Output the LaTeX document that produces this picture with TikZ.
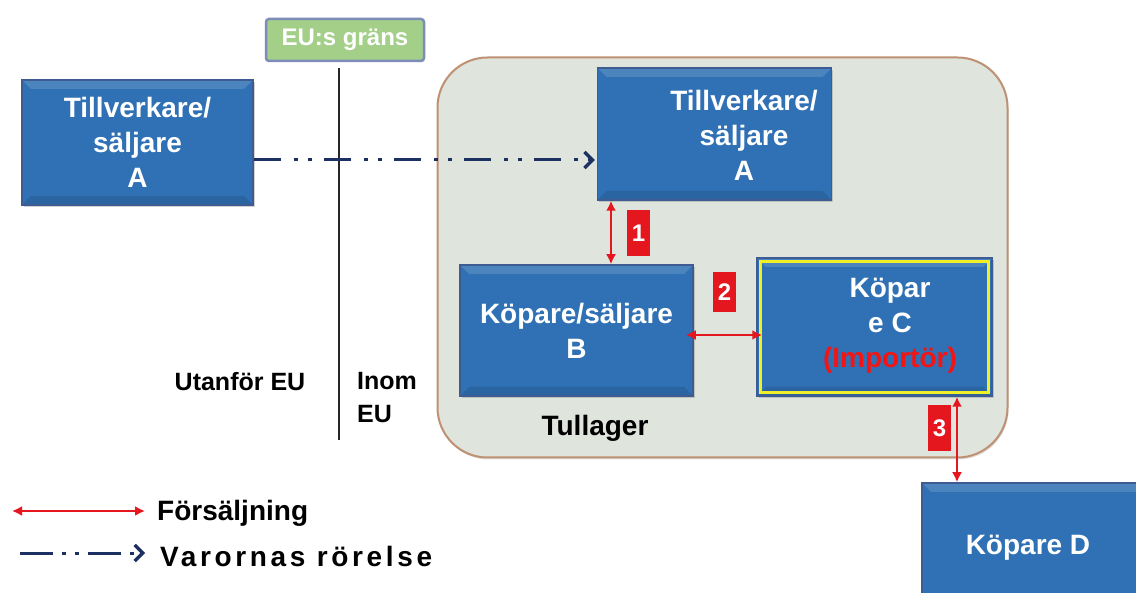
\documentclass[tikz,border=0pt]{standalone}
\usepackage{fontspec}
\setmainfont{Liberation Sans}
\usetikzlibrary{arrows.meta,shadows}
\definecolor{boxblue}{RGB}{47,113,180}
\definecolor{boxedge}{RGB}{62,92,145}
\definecolor{eugreen}{RGB}{163,207,137}
\definecolor{euedge}{RGB}{125,140,185}
\definecolor{tullfill}{RGB}{223,228,220}
\definecolor{tulledge}{RGB}{190,145,115}
\definecolor{navy}{RGB}{28,48,98}
\definecolor{sred}{RGB}{228,22,30}
\definecolor{impred}{RGB}{245,20,20}
\definecolor{hiyellow}{RGB}{240,240,40}
\tikzset{
  bluebox/.style={draw=boxedge, line width=1.5pt, fill=boxblue, text=white,
    font=\bfseries\fontsize{28}{35}\selectfont, align=center, inner sep=0pt,
    drop shadow={shadow xshift=1.5pt, shadow yshift=-2pt, opacity=.35},
    path picture={
      \fill[white,opacity=.14] (path picture bounding box.north west) -- (path picture bounding box.north east)
        -- ([xshift=-9pt,yshift=-9pt]path picture bounding box.north east) -- ([xshift=9pt,yshift=-9pt]path picture bounding box.north west) -- cycle;
      \fill[black,opacity=.10] (path picture bounding box.south west) -- (path picture bounding box.south east)
        -- ([xshift=-9pt,yshift=9pt]path picture bounding box.south east) -- ([xshift=9pt,yshift=9pt]path picture bounding box.south west) -- cycle;
    }},
  boxtext/.style={text=white, font=\bfseries\fontsize{28}{35}\selectfont, align=center, inner sep=0pt},
  numbox/.style={fill=sred, text=white, font=\bfseries\fontsize{24}{24}\selectfont, inner sep=0pt, minimum width=23pt, minimum height=46pt},
  sale/.style={draw=sred, line width=2.8pt, arrows={Latex[length=10pt,width=10pt]-Latex[length=10pt,width=10pt]}},
  goods/.style={draw=navy, line width=3pt, dash pattern=on 27pt off 13pt on 4pt off 10pt on 4pt off 12pt,
    arrows={-Straight Barb[length=8pt,width=16pt,line width=3.2pt]}},
  plain/.style={font=\bfseries\fontsize{25}{33}\selectfont, inner sep=0pt, align=left},
  legend/.style={font=\bfseries\fontsize{28}{33}\selectfont, inner sep=0pt, anchor=west}
}
\begin{document}
\begin{tikzpicture}[x=1pt,y=-1pt]
\clip (0,0) rectangle (1136,593);
\fill[white] (0,0) rectangle (1136,593);

% customs warehouse
\node[draw=tulledge, line width=2pt, fill=tullfill, rounded corners=50pt, minimum width=570pt, minimum height=400pt,
  drop shadow={shadow xshift=1pt, shadow yshift=-2pt, opacity=.25}] (tull) at (722.5,257.5) {};
\node[font=\bfseries\fontsize{28}{33}\selectfont, inner sep=0pt] (tulltxt) at (595,428) {Tullager};

% EU border
\node[draw=euedge, line width=2.5pt, fill=eugreen, rounded corners=3pt, minimum width=158pt, minimum height=42pt,
  text=white, font=\bfseries\fontsize{24}{24}\selectfont, inner sep=0pt] (eu) at (345,40) {EU:s gräns};
\coordinate (bTop) at (339,68);
\coordinate (bBot) at (339,440);
\draw[line width=2.2pt, black!85] (bTop) -- (bBot);
\node[plain] (utan) at (240,382) {Utanför EU};
\node[plain, anchor=north west] (inom) at (357,372) {Inom\\EU};

% boxes
\node[bluebox, minimum width=231pt, minimum height=125pt] (A1) at (137.5,142.5) {Tillverkare/\\säljare\\A};
\node[bluebox, minimum width=234pt, minimum height=132pt] (A2) at (714.5,134) {};
\node[boxtext] (A2t) at (744,135) {Tillverkare/\\säljare\\A};
\node[bluebox, minimum width=233pt, minimum height=131pt] (B) at (576.5,330.5) {Köpare/säljare\\B};
\node[bluebox, minimum width=235pt, minimum height=138pt] (C) at (874.5,327) {};
\draw[hiyellow, line width=3pt] ([shift={(4pt,-4pt)}]C.north west) rectangle ([shift={(-4pt,4pt)}]C.south east);
\node[boxtext] (Ct) at (890,326) {Köpar\\e C\\\textcolor{impred}{(Importör)}};
\node[bluebox, minimum width=240pt, minimum height=140pt] (D) at (1042,553) {};
\node[boxtext] (Dt) at (1028,548) {Köpare D};

% goods movement
\coordinate (gy) at (0,160);
\draw[goods] (A1.east |- gy) -- ([xshift=-2pt]A2.west |- gy);

% sales
\coordinate (x1) at (611,0);
\coordinate (y2) at (0,335);
\coordinate (x3) at (957,0);
\draw[sale] (A2.south -| x1) -- (B.north -| x1);
\draw[sale] ([xshift=-8pt]B.east |- y2) -- ([xshift=6pt]C.west |- y2);
\draw[sale] (C.south -| x3) -- (D.north -| x3);
\node[numbox] (n1) at (638.5,233) {1};
\node[numbox, minimum height=40pt] (n2) at (724.5,292) {2};
\node[numbox] (n3) at (939.5,428.5) {3};

% legend
\coordinate (l1a) at (12,511);
\coordinate (l1b) at (145,511);
\draw[sale] (l1a) -- (l1b);
\node[legend] (lt1) at (157,513) {Försäljning};
\coordinate (l2a) at (20,553);
\coordinate (l2b) at (145,553);
\draw[goods, dash pattern=on 33pt off 9pt on 4pt off 9pt on 4pt off 9pt] (l2a) -- (l2b);
\node[legend] (lt2) at (160,556) {\addfontfeature{LetterSpace=13}Varornas rörelse};
\end{tikzpicture}
\end{document}
